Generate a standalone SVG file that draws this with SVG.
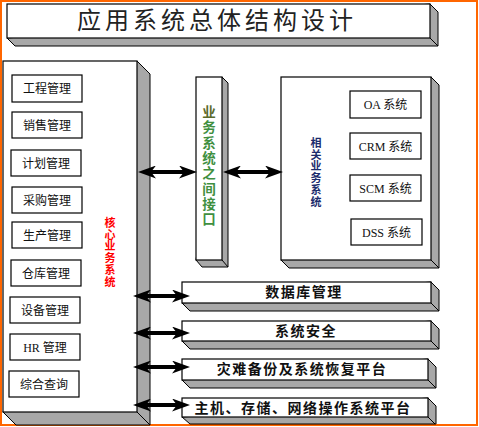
<svg xmlns="http://www.w3.org/2000/svg" width="479" height="427" viewBox="0 0 479 427">
<defs>
<style>
.ext{fill:#a8a8a8;stroke:#000;stroke-width:1}
.face{fill:#fff;stroke:#000;stroke-width:1.2}
.box{fill:#fff;stroke:#000;stroke-width:1.2}
.edge{stroke:#000;stroke-width:1;fill:none}
.lbl{font-family:"Liberation Serif","Noto Sans CJK SC",serif;font-size:12px;fill:#111;text-anchor:middle}
.bar{font-family:"Noto Sans CJK SC",sans-serif;font-size:14px;font-weight:bold;fill:#111;text-anchor:middle;letter-spacing:1.5px}
.vt{font-family:"Noto Sans CJK SC",sans-serif;font-weight:bold;text-anchor:middle}
.arr{stroke:#000;stroke-width:4;fill:none;marker-start:url(#ah);marker-end:url(#ah)}
</style>
<marker id="ah" markerUnits="userSpaceOnUse" markerWidth="18" markerHeight="13" refX="6" refY="6.5" orient="auto-start-reverse" viewBox="0 0 18 13">
<path d="M0,0 L18,6.5 L0,13 L5,6.5 z" fill="#000"/>
</marker>
</defs>
<rect x="1" y="1" width="476" height="424" fill="#fff" stroke="#ff6600" stroke-width="2"/>

<g id="title">
<polygon class="ext" points="430,4 438,12 438,46 15,46 7,38"/>
<line class="edge" x1="430" y1="38" x2="438" y2="46"/>
<rect class="face" x="7" y="4" width="423" height="34"/>
<text x="217" y="29" font-family="Noto Sans CJK SC,sans-serif" font-size="24" fill="#222" text-anchor="middle" letter-spacing="4">应用系统总体结构设计</text>
</g>

<g id="core">
<polygon class="ext" points="137,61 150,74 150,425 16,425 3,412"/>
<line class="edge" x1="137" y1="412" x2="150" y2="425"/>
<rect class="face" x="3" y="61" width="134" height="351"/>
<text class="vt" font-size="11" fill="#ff0000"><tspan x="110" y="227">核</tspan><tspan x="110" y="238.7">心</tspan><tspan x="110" y="250.4">业</tspan><tspan x="110" y="262.1">务</tspan><tspan x="110" y="273.8">系</tspan><tspan x="110" y="285.5">统</tspan></text>
</g>
<g id="n1"><rect class="box" x="12" y="75" width="70" height="27"/><text class="lbl" x="47" y="93">工程管理</text></g>
<g id="n2"><rect class="box" x="12" y="112" width="70" height="26"/><text class="lbl" x="47" y="130">销售管理</text></g>
<g id="n3"><rect class="box" x="11" y="150" width="70" height="26"/><text class="lbl" x="46" y="168">计划管理</text></g>
<g id="n4"><rect class="box" x="12" y="187" width="70" height="26"/><text class="lbl" x="47" y="205">采购管理</text></g>
<g id="n5"><rect class="box" x="12" y="222" width="70" height="26"/><text class="lbl" x="47" y="240">生产管理</text></g>
<g id="n6"><rect class="box" x="11" y="260" width="70" height="26"/><text class="lbl" x="46" y="278">仓库管理</text></g>
<g id="n7"><rect class="box" x="10" y="297" width="70" height="26"/><text class="lbl" x="45" y="315">设备管理</text></g>
<g id="n8"><rect class="box" x="10" y="334" width="70" height="26"/><text class="lbl" x="45" y="352">HR 管理</text></g>
<g id="n9"><rect class="box" x="9" y="371" width="70" height="26"/><text class="lbl" x="44" y="389">综合查询</text></g>

<g id="interface">
<polygon class="ext" points="222,77 228,83 228,267 202,267 196,260"/>
<line class="edge" x1="222" y1="260" x2="228" y2="267"/>
<rect class="face" x="196" y="77" width="26" height="183"/>
<text class="vt" font-size="13.5" fill="#3f8f3f"><tspan x="209" y="117" fill="#5a6a2a">业</tspan><tspan x="209" y="132.3">务</tspan><tspan x="209" y="147.6">系</tspan><tspan x="209" y="162.9">统</tspan><tspan x="209" y="178.2">之</tspan><tspan x="209" y="193.5">间</tspan><tspan x="209" y="208.8">接</tspan><tspan x="209" y="224.1">口</tspan></text>
</g>

<g id="related">
<polygon class="ext" points="431,77 439,85 439,268 289,268 281,260"/>
<line class="edge" x1="431" y1="260" x2="439" y2="268"/>
<rect class="face" x="281" y="77" width="150" height="183"/>
<text class="vt" font-size="11" fill="#1c2c6c"><tspan x="316" y="147">相</tspan><tspan x="316" y="158.7">关</tspan><tspan x="316" y="170.4">业</tspan><tspan x="316" y="182.1">务</tspan><tspan x="316" y="193.8">系</tspan><tspan x="316" y="205.5">统</tspan></text>
</g>
<g id="oa"><rect class="box" x="350" y="91" width="71" height="27"/><text class="lbl" x="385.5" y="109">OA 系统</text></g>
<g id="crm"><rect class="box" x="350" y="133" width="71" height="26"/><text class="lbl" x="385.5" y="151">CRM 系统</text></g>
<g id="scm"><rect class="box" x="350" y="175" width="71" height="26"/><text class="lbl" x="385.5" y="193">SCM 系统</text></g>
<g id="dss"><rect class="box" x="351" y="219" width="71" height="26"/><text class="lbl" x="386.5" y="237">DSS 系统</text></g>

<g id="db">
<polygon class="ext" points="431,282 439,290 439,311 190,311 182,303"/>
<line class="edge" x1="431" y1="303" x2="439" y2="311"/>
<rect class="face" x="182" y="282" width="249" height="21"/>
<text class="bar" x="304" y="297">数据库管理</text>
</g>
<g id="sec">
<polygon class="ext" points="431,321 439,329 439,349 190,349 182,341"/>
<line class="edge" x1="431" y1="341" x2="439" y2="349"/>
<rect class="face" x="182" y="321" width="249" height="20"/>
<text class="bar" x="306" y="336">系统安全</text>
</g>
<g id="backup">
<polygon class="ext" points="428,359 436,367 436,388 190,388 182,380"/>
<line class="edge" x1="428" y1="380" x2="436" y2="388"/>
<rect class="face" x="182" y="359" width="246" height="21"/>
<text class="bar" x="302" y="374">灾难备份及系统恢复平台</text>
</g>
<g id="platform">
<polygon class="ext" points="428,398 436,406 436,424 190,424 182,417"/>
<line class="edge" x1="428" y1="417" x2="435" y2="424"/>
<rect class="face" x="182" y="398" width="246" height="19"/>
<text class="bar" x="303" y="413">主机、存储、网络操作系统平台</text>
</g>

<g id="connectors">
<line class="arr" x1="150" y1="172" x2="185" y2="172"/>
<line class="arr" x1="235" y1="172" x2="271" y2="172"/>
<line class="arr" x1="145" y1="296" x2="178" y2="296"/>
<line class="arr" x1="145" y1="333" x2="178" y2="333"/>
<line class="arr" x1="145" y1="367" x2="178" y2="367"/>
<line class="arr" x1="145" y1="405" x2="178" y2="405"/>
</g>
</svg>
